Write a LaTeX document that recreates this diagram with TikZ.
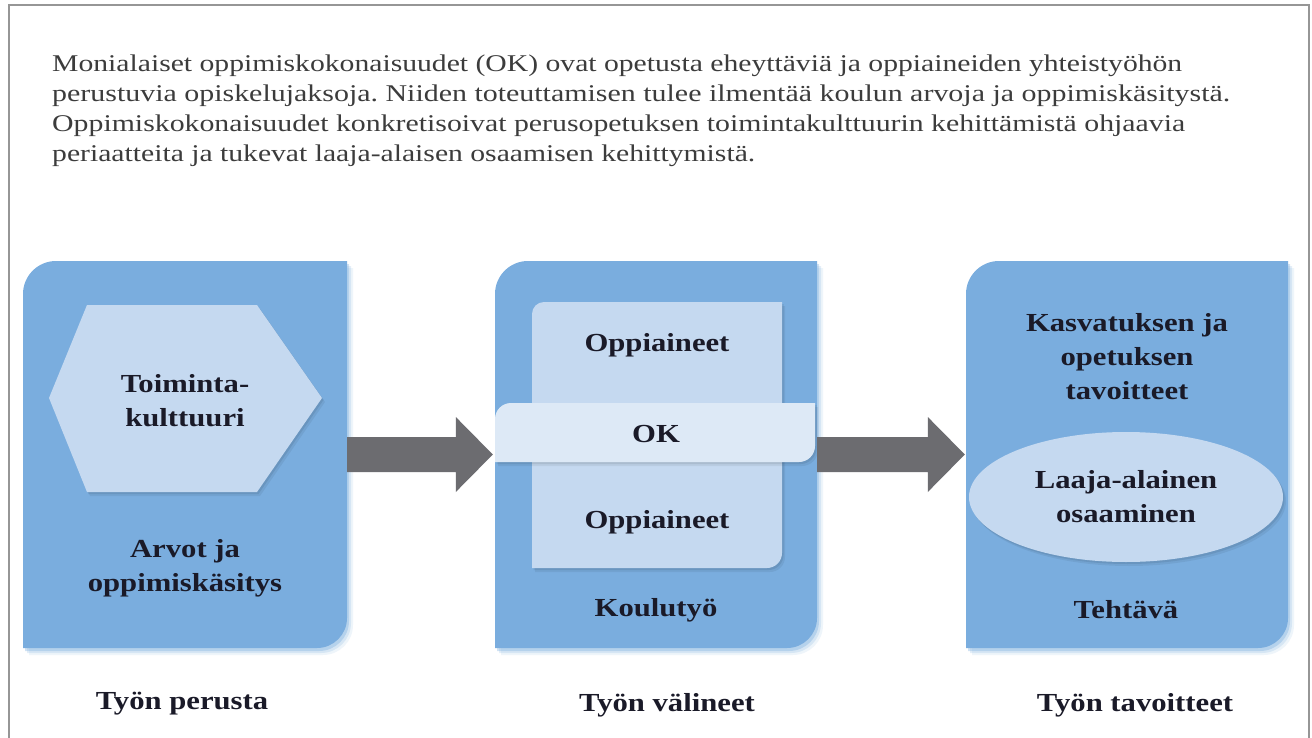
\documentclass[tikz,border=0pt]{standalone}
\usepackage{graphicx}
\usepackage{fontspec}
\setmainfont{Liberation Serif}
\newfontfamily\bodyfont[FakeStretch=1.1]{Liberation Serif}
\newfontfamily\labfont[FakeStretch=1.18]{Liberation Serif Bold}
\usetikzlibrary{shapes.geometric,shadows,calc}
\definecolor{panelblue}{RGB}{122,173,222}
\definecolor{lightfill}{RGB}{197,217,240}
\definecolor{okfill}{RGB}{221,233,246}
\definecolor{arrowgray}{RGB}{108,108,112}
\definecolor{labtext}{RGB}{26,26,40}
\definecolor{bodytext}{RGB}{60,60,60}
\definecolor{framegray}{RGB}{150,150,150}
\newcommand\cutbox[7]{\fill[#7] (#1,#4) -- (#1,{#2+#5}) .. controls (#1,{#2+0.448*#5}) and ({#1+0.448*#5},#2) .. ({#1+#5},#2) -- (#3,#2) -- (#3,{#4-#6}) .. controls (#3,{#4-0.448*#6}) and ({#3-0.448*#6},#4) .. ({#3-#6},#4) -- cycle;}
\newsavebox\linebox
\newcommand\fitline[2]{\sbox\linebox{#2}\pgfmathsetmacro\fitfac{#1/\the\wd\linebox}\scalebox{\fitfac}[1]{\usebox\linebox}}
\frenchspacing
\begin{document}
\begin{tikzpicture}[x=1pt,y=-1pt,
  panel/.style={fill=panelblue,
    drop shadow={shadow xshift=6pt, shadow yshift=-7pt, fill=panelblue, opacity=0.12},
    drop shadow={shadow xshift=4pt, shadow yshift=-5pt, fill=panelblue, opacity=0.2},
    drop shadow={shadow xshift=2pt, shadow yshift=-3pt, fill=panelblue, opacity=0.35}},
  inner/.style={fill=lightfill,
    drop shadow={shadow xshift=3pt, shadow yshift=-4pt, fill=black, opacity=0.06},
    drop shadow={shadow xshift=1.5pt, shadow yshift=-2pt, fill=black, opacity=0.08}},
  okband/.style={fill=okfill,
    drop shadow={shadow xshift=3pt, shadow yshift=-4pt, fill=black, opacity=0.06},
    drop shadow={shadow xshift=1.5pt, shadow yshift=-2pt, fill=black, opacity=0.08}},
  anchorbox/.style={inner sep=0pt, minimum height=387pt},
  bodytxt/.style={font=\fontsize{24}{30}\selectfont\bodyfont, text=bodytext, inner sep=0pt, anchor=base west},
  labtxt/.style={font=\fontsize{26}{34}\selectfont\labfont, text=labtext, align=center, inner sep=0pt},
  arrowfill/.style={fill=arrowgray}]
\useasboundingbox (0,0) rectangle (1312,738);
\clip (0,0) rectangle (1312,738);
\fill[white] (0,0) rectangle (1312,738);
\draw[framegray, line width=2pt] (9,760) -- (9,5) -- (1309,5) -- (1309,760);

\node[bodytxt] (intro1) at (52,72) {\fitline{1130}{Monialaiset oppimiskokonaisuudet (OK) ovat opetusta eheyttäviä ja oppiaineiden yhteistyöhön}};
\node[bodytxt] (intro2) at (52,102) {\fitline{1178}{perustuvia opiskelujaksoja. Niiden toteuttamisen tulee ilmentää koulun arvoja ja oppimiskäsitystä.}};
\node[bodytxt] (intro3) at (52,132) {\fitline{1133}{Oppimiskokonaisuudet konkretisoivat perusopetuksen toimintakulttuurin kehittämistä ohjaavia}};
\node[bodytxt] (intro4) at (52,162) {\fitline{703}{periaatteita ja tukevat laaja-alaisen osaamisen kehittymistä.}};

% panels
\cutbox{23}{261}{347}{648}{33}{30}{panel}
\cutbox{495}{261}{817}{648}{33}{30}{panel}
\cutbox{966}{261}{1288}{648}{33}{30}{panel}
\node[anchorbox, minimum width=324pt] (p1) at (185,454.5) {};
\node[anchorbox, minimum width=322pt] (p2) at (656,454.5) {};
\node[anchorbox, minimum width=322pt] (p3) at (1127,454.5) {};

% left panel content
\fill[inner] (49,398) -- (87,305) -- (257,305) -- (322,398) -- (257,492) -- (87,492) -- cycle;
\node[labtxt] (toim) at (185,401) {Toiminta-\\kulttuuri};
\node[labtxt] (arvot) at (185,568) {Arvot ja\\oppimiskäsitys};

% middle panel content
\cutbox{532}{302}{782}{568}{12}{15}{inner}
\cutbox{495}{403}{815}{462}{16}{16}{okband}
\node[labtxt] (opp1) at (657,345) {Oppiaineet};
\node[labtxt] (ok) at (656,434) {OK};
\node[labtxt] (opp2) at (657,522) {Oppiaineet};
\node[labtxt] (koulu) at (656,610) {Koulutyö};

% right panel content
\node[labtxt, anchor=center] (kasv) at (1127,357) {Kasvatuksen ja\\opetuksen\\tavoitteet};
\node[ellipse, fill=lightfill, minimum width=314pt, minimum height=130pt, inner sep=0pt,
      drop shadow={shadow xshift=3pt, shadow yshift=-4pt, fill=black, opacity=0.06},
      drop shadow={shadow xshift=1.5pt, shadow yshift=-2pt, fill=black, opacity=0.08}] (ell) at (1126,497) {};
\node[labtxt] (laaja) at (ell.center) {Laaja-alainen\\osaaminen};
\node[labtxt] (teht) at (1126,610) {Tehtävä};

% arrows
\fill[arrowfill] ($(p1.east)+(0,-17.5)$) -- ($(p2.west)+(-39,-17.5)$) -- ($(p2.west)+(-39,-37.5)$) -- ($(p2.west)+(-2,0)$) -- ($(p2.west)+(-39,37.5)$) -- ($(p2.west)+(-39,17.5)$) -- ($(p1.east)+(0,17.5)$) -- cycle;
\fill[arrowfill] ($(p2.east)+(0,-17.5)$) -- ($(p3.west)+(-38,-17.5)$) -- ($(p3.west)+(-38,-37.5)$) -- ($(p3.west)+(-1,0)$) -- ($(p3.west)+(-38,37.5)$) -- ($(p3.west)+(-38,17.5)$) -- ($(p2.east)+(0,17.5)$) -- cycle;

% bottom labels
\node[labtxt] (b1) at (182,704) {Työn perusta};
\node[labtxt] (b2) at (667,705) {Työn välineet};
\node[labtxt] (b3) at (1135,705) {Työn tavoitteet};
\end{tikzpicture}
\end{document}
